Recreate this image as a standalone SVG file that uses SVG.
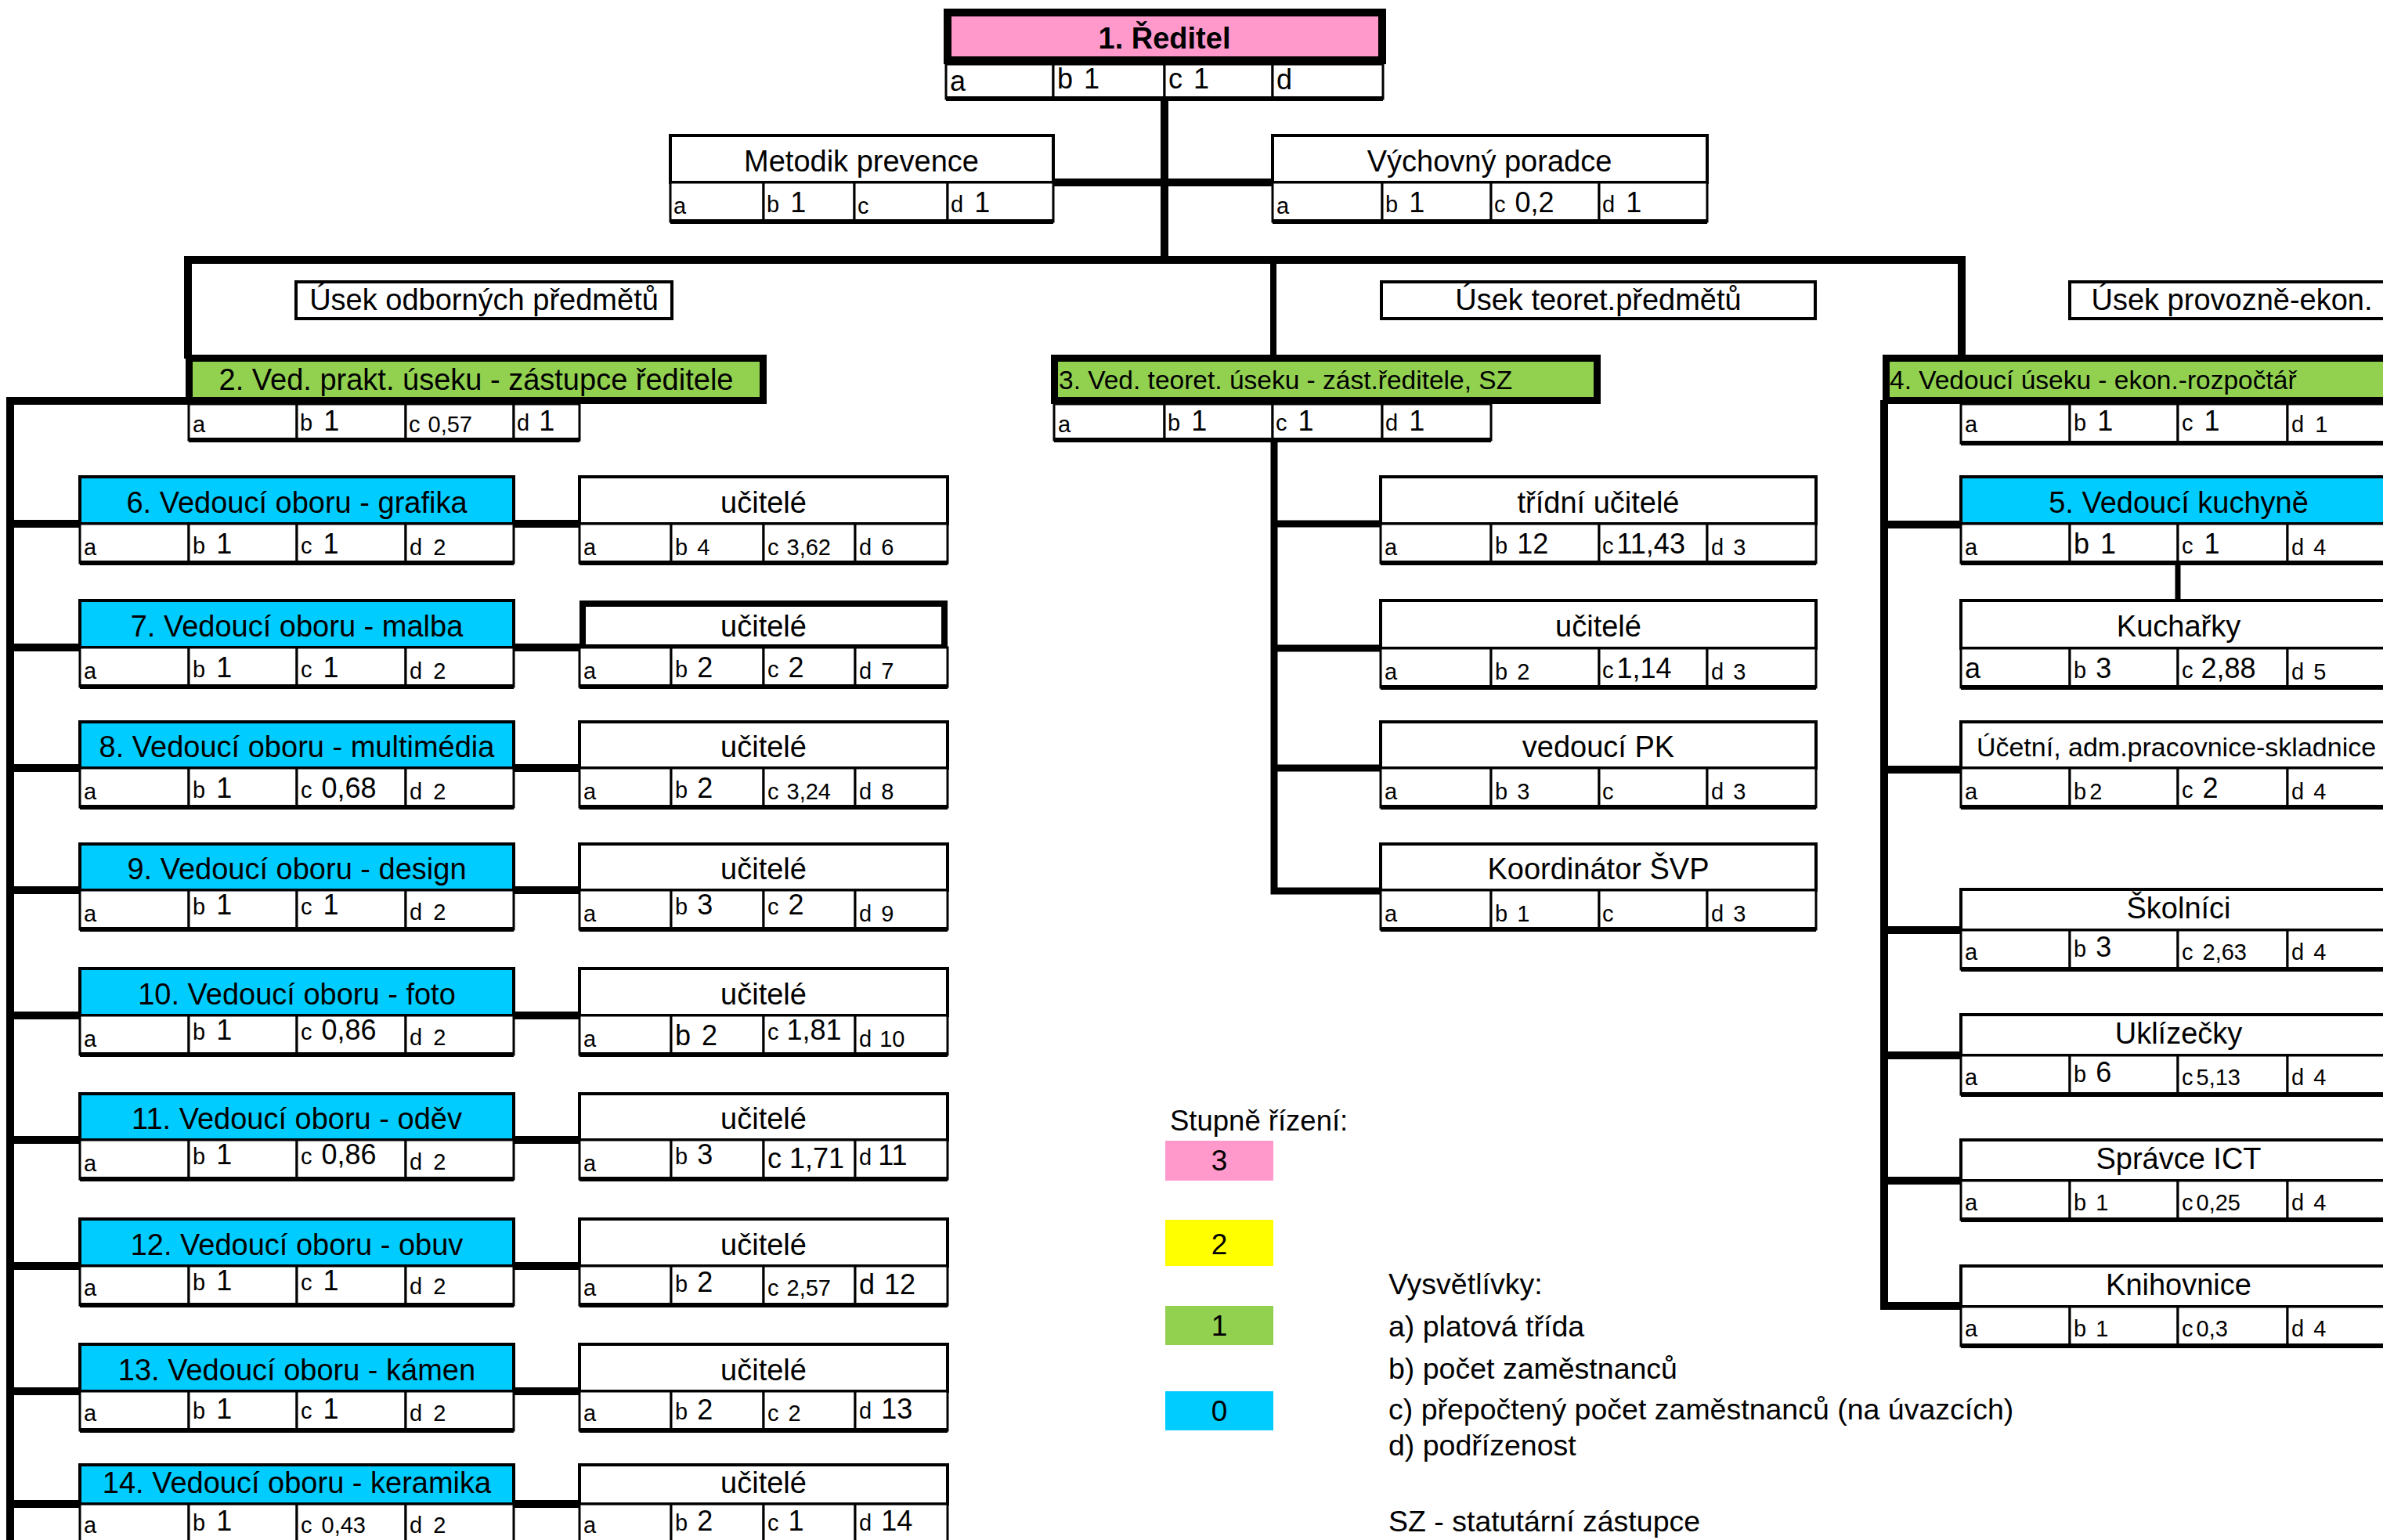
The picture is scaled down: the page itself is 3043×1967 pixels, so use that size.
<svg xmlns="http://www.w3.org/2000/svg" xmlns:xlink="http://www.w3.org/1999/xlink" width="3043" height="1967" viewBox="0 0 3043 1967">
<style>
.t{font-family:"Liberation Sans",Arial,sans-serif;fill:#000}
.h{font-size:38px;text-anchor:middle}
.hb{font-size:38px;font-weight:bold;text-anchor:middle}
.hl{font-size:33.5px}
.hm{font-size:34px;text-anchor:middle}
.lg{font-size:37px;text-anchor:middle}
.l{font-size:29px}
.v{font-size:36px}
.s{font-size:29px}
.box{fill:#fff;stroke:#000;stroke-width:4}
.boxT{fill:#fff;stroke:#000;stroke-width:8}
.cy{fill:#00CCFF;stroke:#000;stroke-width:4}
.gr{fill:#92D050;stroke:#000;stroke-width:9}
.pk{fill:#FF99CC;stroke:#000;stroke-width:10}
.c{fill:#fff;stroke:#000;stroke-width:3}
.bl{stroke:#000;stroke-width:6}
.cn{stroke:#000;stroke-width:10;fill:none;stroke-linejoin:miter;stroke-linecap:square}
</style>
<defs>
<g id="rowL"><rect class="c" x="102" y="0" width="139" height="50"/><rect class="c" x="241" y="0" width="138" height="50"/><rect class="c" x="379" y="0" width="139" height="50"/><rect class="c" x="518" y="0" width="138" height="50"/><line class="bl" x1="102" y1="50" x2="656" y2="50"/></g>
<g id="rowT"><rect class="c" x="740" y="0" width="117" height="50"/><rect class="c" x="857" y="0" width="118" height="50"/><rect class="c" x="975" y="0" width="117" height="50"/><rect class="c" x="1092" y="0" width="118" height="50"/><line class="bl" x1="740" y1="50" x2="1210" y2="50"/></g>
<g id="rowM"><rect class="c" x="1763" y="0" width="141" height="50"/><rect class="c" x="1904" y="0" width="138" height="50"/><rect class="c" x="2042" y="0" width="138" height="50"/><rect class="c" x="2180" y="0" width="139" height="50"/><line class="bl" x1="1763" y1="50" x2="2319" y2="50"/></g>
<g id="rowR"><rect class="c" x="2504" y="0" width="139" height="50"/><rect class="c" x="2643" y="0" width="138" height="50"/><rect class="c" x="2781" y="0" width="140" height="50"/><rect class="c" x="2921" y="0" width="141" height="50"/><line class="bl" x1="2504" y1="50" x2="3062" y2="50"/></g>
</defs>
<rect width="3043" height="1967" fill="#fff"/>

<g id="connectors" class="cn">
<path d="M1487,126 V332"/>
<path d="M1345,233 H1625"/>
<path d="M240,453 V332 H2505 V453"/>
<path d="M1626,332 V453" stroke-width="8"/>
<path d="M241,512 H13 V1980"/>
<path d="M13,669 H102 M656,669 H740 M13,827 H102 M656,827 H740 M13,981 H102 M656,981 H740 M13,1137 H102 M656,1137 H740 M13,1297 H102 M656,1297 H740 M13,1456 H102 M656,1456 H740 M13,1617 H102 M656,1617 H740 M13,1777 H102 M656,1777 H740 M13,1921 H102 M656,1921 H740"/>
<path d="M1627,562 V1138 H1763 M1627,669 H1763 M1627,828 H1763 M1627,981 H1763" stroke-width="9"/>
<path d="M2406,516 V1668 H2504 M2406,670 H2504 M2406,983 H2504 M2406,1188 H2504 M2406,1348 H2504 M2406,1508 H2504"/>
<path d="M2781,718 V767" stroke-width="7"/>
</g>

<g id="n1">
<rect class="pk" x="1210" y="16" width="555" height="61"/>
<text class="t hb" x="1487" y="62">1. Ředitel</text>
<rect class="c" x="1208" y="82" width="137" height="44"/><rect class="c" x="1345" y="82" width="142" height="44"/><rect class="c" x="1487" y="82" width="138" height="44"/><rect class="c" x="1625" y="82" width="141" height="44"/>
<line class="bl" x1="1208" y1="126" x2="1766" y2="126"/>
<text class="t v" x="1213" y="116">a</text>
<text class="t" x="1350" y="113"><tspan class="v">b</tspan><tspan class="v" dx="14">1</tspan></text>
<text class="t" x="1492" y="113"><tspan class="v">c</tspan><tspan class="v" dx="14">1</tspan></text>
<text class="t v" x="1630" y="114">d</text>
</g>

<g id="metodik">
<rect class="box" x="856" y="173" width="489" height="60"/>
<text class="t h" x="1100" y="219">Metodik prevence</text>
<rect class="c" x="856" y="233" width="119" height="50"/><rect class="c" x="975" y="233" width="116" height="50"/><rect class="c" x="1091" y="233" width="119" height="50"/><rect class="c" x="1210" y="233" width="135" height="50"/>
<line class="bl" x1="856" y1="283" x2="1345" y2="283"/>
<text class="t l" x="860" y="273">a</text>
<text class="t" x="979" y="271"><tspan class="l">b</tspan><tspan class="v" dx="14">1</tspan></text>
<text class="t l" x="1095" y="273">c</text>
<text class="t" x="1214" y="271"><tspan class="l">d</tspan><tspan class="v" dx="14">1</tspan></text>
</g>

<g id="vychovny">
<rect class="box" x="1625" y="173" width="555" height="60"/>
<text class="t h" x="1902" y="219">Výchovný poradce</text>
<rect class="c" x="1625" y="233" width="140" height="50"/><rect class="c" x="1765" y="233" width="139" height="50"/><rect class="c" x="1904" y="233" width="138" height="50"/><rect class="c" x="2042" y="233" width="138" height="50"/>
<line class="bl" x1="1625" y1="283" x2="2180" y2="283"/>
<text class="t l" x="1630" y="273">a</text>
<text class="t" x="1769" y="271"><tspan class="l">b</tspan><tspan class="v" dx="14">1</tspan></text>
<text class="t" x="1908" y="271"><tspan class="l">c</tspan><tspan class="v" dx="12">0,2</tspan></text>
<text class="t" x="2046" y="271"><tspan class="l">d</tspan><tspan class="v" dx="14">1</tspan></text>
</g>

<g id="usek1"><rect class="box" x="378" y="360" width="480" height="47"/><text class="t h" x="618" y="396">Úsek odborných předmětů</text></g>
<g id="usek2"><rect class="box" x="1764" y="360" width="554" height="47"/><text class="t h" x="2041" y="396">Úsek teoret.předmětů</text></g>
<g id="usek3"><rect class="box" x="2643" y="360" width="420" height="47"/><text class="t h" x="2850" y="396">Úsek provozně-ekon.</text></g>

<g id="n2">
<rect class="gr" x="241.5" y="457.5" width="733" height="54"/>
<text class="t h" x="608" y="498">2. Ved. prakt. úseku - zástupce ředitele</text>
<rect class="c" x="241" y="516" width="138" height="46"/><rect class="c" x="379" y="516" width="139" height="46"/><rect class="c" x="518" y="516" width="138" height="46"/><rect class="c" x="656" y="516" width="84" height="46"/>
<line class="bl" x1="241" y1="562" x2="740" y2="562"/>
<text class="t l" x="246" y="552">a</text>
<text class="t" x="383" y="550"><tspan class="l">b</tspan><tspan class="v" dx="14">1</tspan></text>
<text class="t" x="522" y="552"><tspan class="l">c</tspan><tspan class="s" dx="10">0,57</tspan></text>
<text class="t" x="660" y="550"><tspan class="l">d</tspan><tspan class="v" dx="12">1</tspan></text>
</g>

<g id="n3">
<rect class="gr" x="1346.5" y="457.5" width="693" height="54"/>
<text class="t hl" x="1352" y="497">3. Ved. teoret. úseku - zást.ředitele, SZ</text>
<rect class="c" x="1346" y="516" width="141" height="46"/><rect class="c" x="1487" y="516" width="138" height="46"/><rect class="c" x="1625" y="516" width="140" height="46"/><rect class="c" x="1765" y="516" width="139" height="46"/>
<line class="bl" x1="1346" y1="562" x2="1904" y2="562"/>
<text class="t l" x="1351" y="552">a</text>
<text class="t" x="1491" y="550"><tspan class="l">b</tspan><tspan class="v" dx="14">1</tspan></text>
<text class="t" x="1629" y="550"><tspan class="l">c</tspan><tspan class="v" dx="14">1</tspan></text>
<text class="t" x="1769" y="550"><tspan class="l">d</tspan><tspan class="v" dx="14">1</tspan></text>
</g>

<g id="n4">
<rect class="gr" x="2408.5" y="457.5" width="700" height="54"/>
<text class="t hl" x="2413" y="497">4. Vedoucí úseku - ekon.-rozpočtář</text>
<use href="#rowR" y="516"/>
<text class="t l" x="2509" y="552">a</text>
<text class="t" x="2648" y="550"><tspan class="l">b</tspan><tspan class="v" dx="14">1</tspan></text>
<text class="t" x="2786" y="550"><tspan class="l">c</tspan><tspan class="v" dx="14">1</tspan></text>
<text class="t" x="2926" y="552"><tspan class="l">d</tspan><tspan class="s" dx="14">1</tspan></text>
</g>

<!-- left column: field heads -->
<g id="n6">
<rect class="cy" x="102" y="609" width="554" height="60"/>
<text class="t h" x="379" y="655">6. Vedoucí oboru - grafika</text>
<use href="#rowL" y="669"/>
<text class="t l" x="107" y="709">a</text>
<text class="t" x="246" y="707"><tspan class="l">b</tspan><tspan class="v" dx="14">1</tspan></text>
<text class="t" x="384" y="707"><tspan class="l">c</tspan><tspan class="v" dx="14">1</tspan></text>
<text class="t" x="523" y="709"><tspan class="l">d</tspan><tspan class="s" dx="14">2</tspan></text>
</g>
<g id="n7">
<rect class="cy" x="102" y="767" width="554" height="60"/>
<text class="t h" x="379" y="813">7. Vedoucí oboru - malba</text>
<use href="#rowL" y="827"/>
<text class="t l" x="107" y="867">a</text>
<text class="t" x="246" y="865"><tspan class="l">b</tspan><tspan class="v" dx="14">1</tspan></text>
<text class="t" x="384" y="865"><tspan class="l">c</tspan><tspan class="v" dx="14">1</tspan></text>
<text class="t" x="523" y="867"><tspan class="l">d</tspan><tspan class="s" dx="14">2</tspan></text>
</g>
<g id="n8">
<rect class="cy" x="102" y="922" width="554" height="59"/>
<text class="t h" x="379" y="967">8. Vedoucí oboru - multimédia</text>
<use href="#rowL" y="981"/>
<text class="t l" x="107" y="1021">a</text>
<text class="t" x="246" y="1019"><tspan class="l">b</tspan><tspan class="v" dx="14">1</tspan></text>
<text class="t" x="384" y="1019"><tspan class="l">c</tspan><tspan class="v" dx="12">0,68</tspan></text>
<text class="t" x="523" y="1021"><tspan class="l">d</tspan><tspan class="s" dx="14">2</tspan></text>
</g>
<g id="n9">
<rect class="cy" x="102" y="1078" width="554" height="59"/>
<text class="t h" x="379" y="1123">9. Vedoucí oboru - design</text>
<use href="#rowL" y="1137"/>
<text class="t l" x="107" y="1177">a</text>
<text class="t" x="246" y="1168"><tspan class="l">b</tspan><tspan class="v" dx="14">1</tspan></text>
<text class="t" x="384" y="1168"><tspan class="l">c</tspan><tspan class="v" dx="14">1</tspan></text>
<text class="t" x="523" y="1175"><tspan class="l">d</tspan><tspan class="s" dx="14">2</tspan></text>
</g>
<g id="n10">
<rect class="cy" x="102" y="1237" width="554" height="60"/>
<text class="t h" x="379" y="1283">10. Vedoucí oboru - foto</text>
<use href="#rowL" y="1297"/>
<text class="t l" x="107" y="1337">a</text>
<text class="t" x="246" y="1328"><tspan class="l">b</tspan><tspan class="v" dx="14">1</tspan></text>
<text class="t" x="384" y="1328"><tspan class="l">c</tspan><tspan class="v" dx="12">0,86</tspan></text>
<text class="t" x="523" y="1335"><tspan class="l">d</tspan><tspan class="s" dx="14">2</tspan></text>
</g>
<g id="n11">
<rect class="cy" x="102" y="1397" width="554" height="59"/>
<text class="t h" x="379" y="1442">11. Vedoucí oboru - oděv</text>
<use href="#rowL" y="1456"/>
<text class="t l" x="107" y="1496">a</text>
<text class="t" x="246" y="1487"><tspan class="l">b</tspan><tspan class="v" dx="14">1</tspan></text>
<text class="t" x="384" y="1487"><tspan class="l">c</tspan><tspan class="v" dx="12">0,86</tspan></text>
<text class="t" x="523" y="1494"><tspan class="l">d</tspan><tspan class="s" dx="14">2</tspan></text>
</g>
<g id="n12">
<rect class="cy" x="102" y="1557" width="554" height="60"/>
<text class="t h" x="379" y="1603">12. Vedoucí oboru - obuv</text>
<use href="#rowL" y="1617"/>
<text class="t l" x="107" y="1655">a</text>
<text class="t" x="246" y="1648"><tspan class="l">b</tspan><tspan class="v" dx="14">1</tspan></text>
<text class="t" x="384" y="1648"><tspan class="l">c</tspan><tspan class="v" dx="14">1</tspan></text>
<text class="t" x="523" y="1653"><tspan class="l">d</tspan><tspan class="s" dx="14">2</tspan></text>
</g>
<g id="n13">
<rect class="cy" x="102" y="1717" width="554" height="60"/>
<text class="t h" x="379" y="1763">13. Vedoucí oboru - kámen</text>
<use href="#rowL" y="1777"/>
<text class="t l" x="107" y="1815">a</text>
<text class="t" x="246" y="1812"><tspan class="l">b</tspan><tspan class="v" dx="14">1</tspan></text>
<text class="t" x="384" y="1812"><tspan class="l">c</tspan><tspan class="v" dx="14">1</tspan></text>
<text class="t" x="523" y="1815"><tspan class="l">d</tspan><tspan class="s" dx="14">2</tspan></text>
</g>
<g id="n14">
<rect class="cy" x="102" y="1871" width="554" height="50"/>
<text class="t h" x="379" y="1907">14. Vedoucí oboru - keramika</text>
<use href="#rowL" y="1921"/>
<text class="t l" x="107" y="1958">a</text>
<text class="t" x="246" y="1955"><tspan class="l">b</tspan><tspan class="v" dx="14">1</tspan></text>
<text class="t" x="384" y="1958"><tspan class="l">c</tspan><tspan class="s" dx="12">0,43</tspan></text>
<text class="t" x="523" y="1958"><tspan class="l">d</tspan><tspan class="s" dx="14">2</tspan></text>
</g>

<!-- left column: teachers -->
<g id="t6">
<rect class="box" x="740" y="609" width="470" height="60"/>
<text class="t h" x="975" y="655">učitelé</text>
<use href="#rowT" y="669"/>
<text class="t l" x="745" y="709">a</text>
<text class="t" x="862" y="709"><tspan class="l">b</tspan><tspan class="s" dx="12">4</tspan></text>
<text class="t" x="980" y="709"><tspan class="l">c</tspan><tspan class="s" dx="10">3,62</tspan></text>
<text class="t" x="1097" y="709"><tspan class="l">d</tspan><tspan class="s" dx="12">6</tspan></text>
</g>
<g id="t7">
<rect class="boxT" x="744" y="771" width="462" height="56"/>
<text class="t h" x="975" y="813">učitelé</text>
<use href="#rowT" y="827"/>
<text class="t l" x="745" y="867">a</text>
<text class="t" x="862" y="865"><tspan class="l">b</tspan><tspan class="v" dx="12">2</tspan></text>
<text class="t" x="980" y="865"><tspan class="l">c</tspan><tspan class="v" dx="12">2</tspan></text>
<text class="t" x="1097" y="867"><tspan class="l">d</tspan><tspan class="s" dx="12">7</tspan></text>
</g>
<g id="t8">
<rect class="box" x="740" y="922" width="470" height="59"/>
<text class="t h" x="975" y="967">učitelé</text>
<use href="#rowT" y="981"/>
<text class="t l" x="745" y="1021">a</text>
<text class="t" x="862" y="1019"><tspan class="l">b</tspan><tspan class="v" dx="12">2</tspan></text>
<text class="t" x="980" y="1021"><tspan class="l">c</tspan><tspan class="s" dx="10">3,24</tspan></text>
<text class="t" x="1097" y="1021"><tspan class="l">d</tspan><tspan class="s" dx="12">8</tspan></text>
</g>
<g id="t9">
<rect class="box" x="740" y="1078" width="470" height="59"/>
<text class="t h" x="975" y="1123">učitelé</text>
<use href="#rowT" y="1137"/>
<text class="t l" x="745" y="1177">a</text>
<text class="t" x="862" y="1168"><tspan class="l">b</tspan><tspan class="v" dx="12">3</tspan></text>
<text class="t" x="980" y="1168"><tspan class="l">c</tspan><tspan class="v" dx="12">2</tspan></text>
<text class="t" x="1097" y="1177"><tspan class="l">d</tspan><tspan class="s" dx="12">9</tspan></text>
</g>
<g id="t10">
<rect class="box" x="740" y="1237" width="470" height="60"/>
<text class="t h" x="975" y="1283">učitelé</text>
<use href="#rowT" y="1297"/>
<text class="t l" x="745" y="1337">a</text>
<text class="t" x="862" y="1335"><tspan class="v">b</tspan><tspan class="v" dx="14">2</tspan></text>
<text class="t" x="980" y="1328"><tspan class="l">c</tspan><tspan class="v" dx="10">1,81</tspan></text>
<text class="t" x="1097" y="1337"><tspan class="l">d</tspan><tspan class="s" dx="10">10</tspan></text>
</g>
<g id="t11">
<rect class="box" x="740" y="1397" width="470" height="59"/>
<text class="t h" x="975" y="1442">učitelé</text>
<use href="#rowT" y="1456"/>
<text class="t l" x="745" y="1496">a</text>
<text class="t" x="862" y="1487"><tspan class="l">b</tspan><tspan class="v" dx="12">3</tspan></text>
<text class="t" x="980" y="1492"><tspan class="v">c</tspan><tspan class="v" dx="10">1,71</tspan></text>
<text class="t" x="1097" y="1488"><tspan class="l">d</tspan><tspan class="v" dx="8">11</tspan></text>
</g>
<g id="t12">
<rect class="box" x="740" y="1557" width="470" height="60"/>
<text class="t h" x="975" y="1603">učitelé</text>
<use href="#rowT" y="1617"/>
<text class="t l" x="745" y="1655">a</text>
<text class="t" x="862" y="1650"><tspan class="l">b</tspan><tspan class="v" dx="12">2</tspan></text>
<text class="t" x="980" y="1655"><tspan class="l">c</tspan><tspan class="s" dx="10">2,57</tspan></text>
<text class="t" x="1097" y="1653"><tspan class="v">d</tspan><tspan class="v" dx="12">12</tspan></text>
</g>
<g id="t13">
<rect class="box" x="740" y="1717" width="470" height="60"/>
<text class="t h" x="975" y="1763">učitelé</text>
<use href="#rowT" y="1777"/>
<text class="t l" x="745" y="1815">a</text>
<text class="t" x="862" y="1813"><tspan class="l">b</tspan><tspan class="v" dx="12">2</tspan></text>
<text class="t" x="980" y="1815"><tspan class="l">c</tspan><tspan class="s" dx="12">2</tspan></text>
<text class="t" x="1097" y="1812"><tspan class="l">d</tspan><tspan class="v" dx="12">13</tspan></text>
</g>
<g id="t14">
<rect class="box" x="740" y="1871" width="470" height="50"/>
<text class="t h" x="975" y="1907">učitelé</text>
<use href="#rowT" y="1921"/>
<text class="t l" x="745" y="1958">a</text>
<text class="t" x="862" y="1955"><tspan class="l">b</tspan><tspan class="v" dx="12">2</tspan></text>
<text class="t" x="980" y="1955"><tspan class="l">c</tspan><tspan class="v" dx="12">1</tspan></text>
<text class="t" x="1097" y="1955"><tspan class="l">d</tspan><tspan class="v" dx="12">14</tspan></text>
</g>

<!-- middle column -->
<g id="m1">
<rect class="box" x="1763" y="609" width="556" height="60"/>
<text class="t h" x="2041" y="655">třídní učitelé</text>
<use href="#rowM" y="669"/>
<text class="t l" x="1768" y="709">a</text>
<text class="t" x="1909" y="707"><tspan class="l">b</tspan><tspan class="v" dx="12">12</tspan></text>
<text class="t" x="2046" y="707"><tspan class="l">c</tspan><tspan class="v" dx="4">11,43</tspan></text>
<text class="t" x="2185" y="709"><tspan class="l">d</tspan><tspan class="s" dx="12">3</tspan></text>
</g>
<g id="m2">
<rect class="box" x="1763" y="767" width="556" height="61"/>
<text class="t h" x="2041" y="813">učitelé</text>
<use href="#rowM" y="828"/>
<text class="t l" x="1768" y="868">a</text>
<text class="t" x="1909" y="868"><tspan class="l">b</tspan><tspan class="s" dx="12">2</tspan></text>
<text class="t" x="2046" y="866"><tspan class="l">c</tspan><tspan class="v" dx="4">1,14</tspan></text>
<text class="t" x="2185" y="868"><tspan class="l">d</tspan><tspan class="s" dx="12">3</tspan></text>
</g>
<g id="m3">
<rect class="box" x="1763" y="922" width="556" height="59"/>
<text class="t h" x="2041" y="967">vedoucí PK</text>
<use href="#rowM" y="981"/>
<text class="t l" x="1768" y="1021">a</text>
<text class="t" x="1909" y="1021"><tspan class="l">b</tspan><tspan class="s" dx="12">3</tspan></text>
<text class="t l" x="2046" y="1021">c</text>
<text class="t" x="2185" y="1021"><tspan class="l">d</tspan><tspan class="s" dx="12">3</tspan></text>
</g>
<g id="m4">
<rect class="box" x="1763" y="1078" width="556" height="59"/>
<text class="t h" x="2041" y="1123">Koordinátor ŠVP</text>
<use href="#rowM" y="1137"/>
<text class="t l" x="1768" y="1177">a</text>
<text class="t" x="1909" y="1177"><tspan class="l">b</tspan><tspan class="s" dx="12">1</tspan></text>
<text class="t l" x="2046" y="1177">c</text>
<text class="t" x="2185" y="1177"><tspan class="l">d</tspan><tspan class="s" dx="12">3</tspan></text>
</g>

<!-- right column -->
<g id="n5">
<rect class="cy" x="2504" y="609" width="558" height="60"/>
<text class="t h" x="2782" y="655">5. Vedoucí kuchyně</text>
<use href="#rowR" y="669"/>
<text class="t l" x="2509" y="709">a</text>
<text class="t" x="2648" y="707"><tspan class="v">b</tspan><tspan class="v" dx="14">1</tspan></text>
<text class="t" x="2786" y="707"><tspan class="l">c</tspan><tspan class="v" dx="14">1</tspan></text>
<text class="t" x="2926" y="709"><tspan class="l">d</tspan><tspan class="s" dx="12">4</tspan></text>
</g>
<g id="kucharky">
<rect class="box" x="2504" y="767" width="558" height="61"/>
<text class="t h" x="2782" y="813">Kuchařky</text>
<use href="#rowR" y="828"/>
<text class="t v" x="2509" y="866">a</text>
<text class="t" x="2648" y="866"><tspan class="l">b</tspan><tspan class="v" dx="12">3</tspan></text>
<text class="t" x="2786" y="866"><tspan class="l">c</tspan><tspan class="v" dx="10">2,88</tspan></text>
<text class="t" x="2926" y="868"><tspan class="l">d</tspan><tspan class="s" dx="12">5</tspan></text>
</g>
<g id="ucetni">
<rect class="box" x="2504" y="922" width="558" height="59"/>
<text class="t hm" x="2779" y="966">Účetní, adm.pracovnice-skladnice</text>
<use href="#rowR" y="981"/>
<text class="t l" x="2509" y="1021">a</text>
<text class="t" x="2648" y="1021"><tspan class="l">b</tspan><tspan class="s" dx="4">2</tspan></text>
<text class="t" x="2786" y="1019"><tspan class="l">c</tspan><tspan class="v" dx="12">2</tspan></text>
<text class="t" x="2926" y="1021"><tspan class="l">d</tspan><tspan class="s" dx="12">4</tspan></text>
</g>
<g id="skolnici">
<rect class="box" x="2504" y="1136" width="558" height="52"/>
<text class="t h" x="2782" y="1173">Školníci</text>
<use href="#rowR" y="1188"/>
<text class="t l" x="2509" y="1226">a</text>
<text class="t" x="2648" y="1222"><tspan class="l">b</tspan><tspan class="v" dx="12">3</tspan></text>
<text class="t" x="2786" y="1226"><tspan class="l">c</tspan><tspan class="s" dx="12">2,63</tspan></text>
<text class="t" x="2926" y="1226"><tspan class="l">d</tspan><tspan class="s" dx="12">4</tspan></text>
</g>
<g id="uklizecky">
<rect class="box" x="2504" y="1296" width="558" height="52"/>
<text class="t h" x="2782" y="1333">Uklízečky</text>
<use href="#rowR" y="1348"/>
<text class="t l" x="2509" y="1386">a</text>
<text class="t" x="2648" y="1382"><tspan class="l">b</tspan><tspan class="v" dx="12">6</tspan></text>
<text class="t" x="2786" y="1386"><tspan class="l">c</tspan><tspan class="s" dx="4">5,13</tspan></text>
<text class="t" x="2926" y="1386"><tspan class="l">d</tspan><tspan class="s" dx="12">4</tspan></text>
</g>
<g id="ict">
<rect class="box" x="2504" y="1456" width="558" height="52"/>
<text class="t h" x="2782" y="1493">Správce ICT</text>
<use href="#rowR" y="1508"/>
<text class="t l" x="2509" y="1546">a</text>
<text class="t" x="2648" y="1546"><tspan class="l">b</tspan><tspan class="s" dx="12">1</tspan></text>
<text class="t" x="2786" y="1546"><tspan class="l">c</tspan><tspan class="s" dx="4">0,25</tspan></text>
<text class="t" x="2926" y="1546"><tspan class="l">d</tspan><tspan class="s" dx="12">4</tspan></text>
</g>
<g id="knihovnice">
<rect class="box" x="2504" y="1617" width="558" height="52"/>
<text class="t h" x="2782" y="1654">Knihovnice</text>
<use href="#rowR" y="1669"/>
<text class="t l" x="2509" y="1707">a</text>
<text class="t" x="2648" y="1707"><tspan class="l">b</tspan><tspan class="s" dx="12">1</tspan></text>
<text class="t" x="2786" y="1707"><tspan class="l">c</tspan><tspan class="s" dx="4">0,3</tspan></text>
<text class="t" x="2926" y="1707"><tspan class="l">d</tspan><tspan class="s" dx="12">4</tspan></text>
</g>

<g id="legend">
<text class="t" x="1494" y="1444" font-size="36.5">Stupně řízení:</text>
<rect x="1488" y="1457" width="138" height="51" fill="#FF99CC"/>
<text class="t lg" x="1557" y="1495">3</text>
<rect x="1488" y="1558" width="138" height="59" fill="#FFFF00"/>
<text class="t lg" x="1557" y="1602">2</text>
<rect x="1488" y="1668" width="138" height="50" fill="#92D050"/>
<text class="t lg" x="1557" y="1706">1</text>
<rect x="1488" y="1777" width="138" height="50" fill="#00CCFF"/>
<text class="t lg" x="1557" y="1815">0</text>
</g>

<g id="explanations" class="t" font-size="37.5">
<text x="1773" y="1653">Vysvětlívky:</text>
<text x="1773" y="1707">a) platová třída</text>
<text x="1773" y="1761">b) počet zaměstnanců</text>
<text x="1773" y="1813">c) přepočtený počet zaměstnanců (na úvazcích)</text>
<text x="1773" y="1859">d) podřízenost</text>
<text x="1773" y="1956">SZ - statutární zástupce</text>
</g>
</svg>
